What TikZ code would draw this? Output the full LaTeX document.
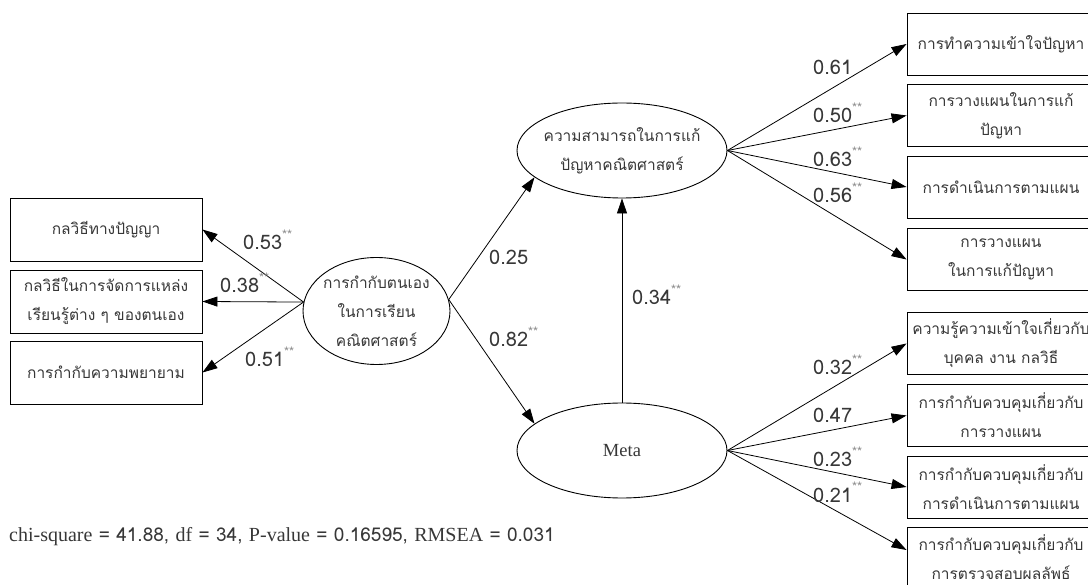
\documentclass[tikz,border=0pt]{standalone}
\usepackage{fontspec}
\setmainfont{Liberation Serif}
\newfontfamily\thaifont[Script=Thai]{Loma}
\usetikzlibrary{arrows.meta,calc,shapes.geometric}
\definecolor{ink}{RGB}{55,55,55}
\definecolor{starc}{RGB}{140,140,140}
\newcommand{\sig}{\raisebox{0.5em}{\textcolor{starc}{\fontsize{13}{13}\selectfont **}}}
\newcommand{\num}[1]{{\thaifont\fontsize{19}{19}\selectfont\ #1\ }}

\begin{document}
\begin{tikzpicture}[x=1pt,y=-1pt,
  every node/.style={inner sep=0pt, text=ink},
  thai/.style={font=\thaifont\fontsize{15.5}{29}\selectfont, align=center},
  lbox/.style={thai, draw=black, line width=0.9pt, minimum width=192pt, minimum height=63pt},
  rbox/.style={thai, draw=black, line width=0.9pt, minimum width=188pt, minimum height=62pt},
  latent/.style={draw=black, ellipse, line width=0.9pt},
  path/.style={draw=black, line width=0.8pt, -{Triangle[length=15pt,width=10pt]}},
  coef/.style={font=\thaifont\fontsize{20}{20}\selectfont, anchor=base west}
]
\useasboundingbox (0,0) rectangle (1088,585);
\clip (0,0) rectangle (1088,585);

% observed indicators, left
\node[lbox] (l1) at (106,229.5) {กลวิธีทางปัญญา};
\node[lbox] (l2) at (106,301.5) {กลวิธีในการจัดการแหล่ง\\เรียนรู้ต่าง ๆ ของตนเอง};
\node[lbox] (l3) at (106,372.5) {การกำกับความพยายาม};

% latent variables
\node[latent, minimum width=147pt, minimum height=107pt] (se) at (376.5,311) {};
\node[thai] (seT) at (se) {การกำกับตนเอง\\ในการเรียน\\คณิตศาสตร์};
\node[latent, minimum width=210pt, minimum height=95pt] (pe) at (622,150.5) {};
\node[thai] (peT) at (pe) {ความสามารถในการแก้\\ปัญหาคณิตศาสตร์};
\node[latent, minimum width=210pt, minimum height=95pt] (me) at (622,450.5) {};
\node[font=\fontsize{18.5}{18.5}\selectfont] (meT) at (me) {Meta};

% observed indicators, right
\node[rbox] (r1) at (1001,44) {การทำความเข้าใจปัญหา};
\node[rbox] (r2) at (1001,115.5) {การวางแผนในการแก้\\ปัญหา};
\node[rbox] (r3) at (1001,187) {การดำเนินการตามแผน};
\node[rbox] (r4) at (1001,259.5) {การวางแผน\\ในการแก้ปัญหา};
\node[rbox] (r5) at (1001,343.5) {ความรู้ความเข้าใจเกี่ยวกับ\\บุคคล งาน กลวิธี};
\node[rbox] (r6) at (1001,415.5) {การกำกับควบคุมเกี่ยวกับ\\การวางแผน};
\node[rbox] (r7) at (1001,487) {การกำกับควบคุมเกี่ยวกับ\\การดำเนินการตามแผน};
\node[rbox, minimum height=60pt] (r8) at (1001,557) {การกำกับควบคุมเกี่ยวกับ\\การตรวจสอบผลลัพธ์};

% paths
\draw[path] (se.173) -- (l1.east);
\draw[path] (se.173) -- (l2.east);
\draw[path] (se.173) -- (l3.east);
\draw[path] (se.9) -- (pe.197);
\draw[path] (se.9) -- (me.163);
\draw[path] (me.north) -- (pe.south);
\foreach \b in {r1,r2,r3,r4}
  \draw[path] (pe.east) -- (\b.west);
\foreach \b in {r5,r6,r7}
  \draw[path] (me.east) -- (\b.west);
\draw[path] (me.east) -- ($(r8.west)+(0,-7)$);

% coefficients
\node[coef] (c1) at (243,250) {0.53\sig};
\node[coef] (c2) at (220,293) {0.38\sig};
\node[coef] (c3) at (245,367) {0.51\sig};
\node[coef] (c4) at (489,265) {0.25};
\node[coef] (c5) at (489,347) {0.82\sig};
\node[coef] (c6) at (632,305) {0.34\sig};
\node[coef] (c7) at (813,75) {0.61};
\node[coef] (c8) at (813,123) {0.50\sig};
\node[coef] (c9) at (813,167) {0.63\sig};
\node[coef] (c10) at (813,203) {0.56\sig};
\node[coef] (c11) at (813,375) {0.32\sig};
\node[coef] (c12) at (813,423) {0.47};
\node[coef] (c13) at (813,467) {0.23\sig};
\node[coef] (c14) at (813,502) {0.21\sig};

% fit statistics
\node[anchor=base west, font=\fontsize{20}{20}\selectfont] (fit) at (9,541)
  {chi-square\num{= 41.88,}df\num{= 34,}P-value\num{= 0.16595,}RMSEA\num{= 0.031}};
\end{tikzpicture}
\end{document}
